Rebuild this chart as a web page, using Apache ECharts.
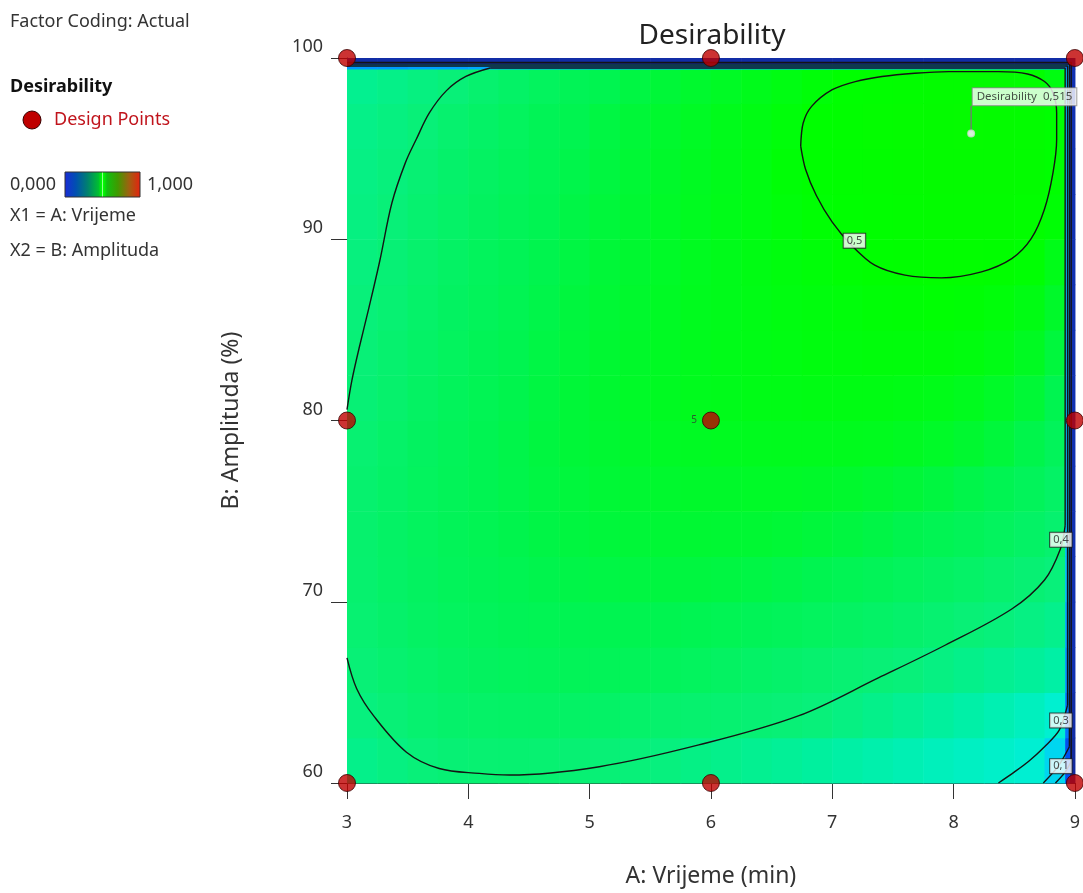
<!DOCTYPE html>
<html>
<head>
<meta charset="utf-8">
<script src="https://cdn.jsdelivr.net/npm/echarts@6/dist/echarts.min.js"></script>
<style>
html,body{margin:0;padding:0;background:#fff;}
#chart{width:1083px;height:893px;}
</style>
</head>
<body>
<div id="chart"></div>
<script>
// ---------- DATA ----------
const xTicks = [3, 4, 5, 6, 7, 8, 9];
const yTicks = [60, 70, 80, 90, 100];

// cell edges of the desirability surface (A: Vrijeme, B: Amplituda)
const xEdges = [3,3.25,3.5,3.75,4,4.25,4.5,4.75,5,5.25,5.5,5.75,6,6.25,6.5,6.75,7,7.25,7.5,7.75,8,8.25,8.5,8.75,8.92,8.96,9];
const yEdges = [60,62.5,65,67.5,70,72.5,75,77.5,80,82.5,85,87.5,90,92.5,95,97.5,99.4,99.7,100];

// estimated desirability per cell, rows from B=60 upward
const desirabilityRows = [
 [.378,.389,.399,.405,.409,.410,.409,.406,.402,.399,.392,.384,.376,.369,.361,.353,.345,.338,.330,.322,.315,.307,.298,.26,.10,.03],
 [.393,.403,.411,.417,.421,.424,.425,.424,.422,.419,.415,.412,.410,.406,.402,.397,.388,.377,.366,.354,.343,.331,.319,.30,.14,.04],
 [.402,.411,.419,.426,.431,.435,.438,.440,.440,.439,.436,.432,.428,.423,.418,.413,.408,.403,.397,.388,.378,.368,.357,.345,.17,.05],
 [.409,.418,.426,.432,.438,.442,.445,.448,.449,.450,.450,.448,.445,.441,.437,.432,.427,.422,.416,.410,.403,.396,.386,.375,.19,.05],
 [.413,.422,.430,.437,.443,.448,.452,.455,.457,.459,.460,.460,.459,.457,.454,.450,.445,.440,.434,.428,.421,.414,.406,.398,.22,.05],
 [.414,.424,.432,.440,.446,.452,.456,.460,.463,.465,.467,.468,.468,.468,.466,.463,.460,.456,.451,.446,.440,.433,.424,.412,.22,.05],
 [.413,.423,.432,.440,.447,.453,.458,.462,.466,.469,.471,.473,.474,.475,.475,.474,.472,.469,.465,.460,.454,.447,.437,.424,.22,.05],
 [.409,.420,.430,.439,.447,.454,.460,.465,.469,.473,.476,.478,.480,.481,.482,.482,.482,.481,.479,.475,.470,.463,.453,.437,.22,.05],
 [.404,.415,.426,.436,.445,.452,.459,.465,.470,.475,.479,.482,.484,.486,.487,.488,.488,.488,.487,.485,.481,.475,.466,.450,.22,.05],
 [.401,.412,.423,.433,.442,.450,.457,.463,.469,.474,.478,.482,.485,.487,.489,.491,.492,.493,.493,.493,.491,.487,.479,.462,.22,.05],
 [.397,.408,.419,.429,.438,.446,.454,.461,.467,.472,.477,.481,.484,.487,.490,.492,.494,.496,.497,.498,.497,.494,.488,.474,.22,.05],
 [.393,.404,.415,.425,.435,.443,.451,.458,.465,.470,.475,.480,.484,.488,.492,.495,.498,.501,.503,.505,.505,.503,.498,.485,.22,.05],
 [.389,.400,.411,.421,.431,.440,.448,.456,.463,.469,.475,.480,.485,.489,.494,.498,.501,.504,.507,.509,.510,.509,.505,.497,.22,.05],
 [.385,.395,.406,.417,.427,.436,.445,.453,.460,.467,.473,.479,.484,.489,.496,.501,.504,.507,.510,.513,.514,.513,.509,.500,.22,.05],
 [.380,.390,.400,.412,.423,.433,.442,.450,.458,.465,.471,.477,.483,.488,.494,.500,.504,.508,.511,.513,.515,.514,.510,.500,.22,.05],
 [.370,.380,.390,.400,.412,.423,.433,.442,.450,.458,.465,.471,.477,.483,.489,.495,.500,.504,.507,.509,.510,.509,.505,.490,.22,.05],
 [.18,.18,.19,.19,.20,.20,.20,.20,.20,.20,.20,.20,.20,.20,.20,.20,.20,.20,.20,.20,.20,.20,.20,.20,.15,.04],
 [.04,.04,.04,.04,.04,.04,.04,.04,.04,.04,.04,.04,.04,.04,.04,.04,.04,.04,.04,.04,.04,.04,.04,.04,.04,.02]
];

// contour lines [A, B]
const contour05 = [[6.74,95.14],[6.76,96.4],[6.83,97.33],[7.0,98.25],[7.19,98.7],[7.41,98.98],[7.68,99.16],[7.96,99.25],[8.37,99.25],[8.61,99.12],[8.75,98.7],[8.82,98.07],[8.85,96.97],[8.85,95.5],[8.82,93.68],[8.75,91.67],[8.64,90.03],[8.48,88.93],[8.23,88.2],[7.9,87.87],[7.6,88.02],[7.35,88.57],[7.16,89.66],[7.0,90.94],[6.87,92.4],[6.78,93.86],[6.74,95.14]];
const contour04Left = [[3.0,80.6],[3.04,82.2],[3.1,84.0],[3.18,86.2],[3.27,88.8],[3.37,92.0],[3.48,94.2],[3.57,95.5],[3.68,96.98],[3.82,98.2],[3.98,98.98],[4.18,99.45]];
const contour04Edge = [[4.18,99.45],[8.92,99.45],[8.92,74.2]];
const contour04Lower = [[8.92,74.2],[8.88,72.9],[8.75,71.2],[8.48,69.6],[7.93,67.6],[7.38,65.8],[6.72,63.7],[5.9,62.1],[5.08,60.9],[4.34,60.44],[4.09,60.53],[3.76,60.8],[3.49,61.7],[3.22,63.7],[3.08,65.2],[3.0,66.9]];
const contour03 = [[8.37,60],[8.5,60.6],[8.62,61.2],[8.75,62.0],[8.87,62.9],[8.94,64.3]];
const contour03Edge = [[8.94,64.3],[8.94,99.56],[3,99.56]];
const contour02 = [[8.74,60],[8.86,60.9],[8.955,62.0]];
const contour02Edge = [[8.955,62.0],[8.955,99.66],[3,99.66]];
const contour01 = [[8.84,60],[8.92,60.6],[8.97,61.2]];
const contour01Edge = [[8.97,61.2],[8.97,99.76],[3,99.76]];
const contourLabels = [[7.183,89.92,'0,5'],[8.885,73.42,'0,4'],[8.885,63.45,'0,3'],[8.885,60.93,'0,1']];

// design points
const designA = [3, 6, 9, 3, 6, 9, 3, 6, 9];
const designB = [60, 60, 60, 80, 80, 80, 100, 100, 100];
const designReps = [1, 1, 1, 1, 5, 1, 1, 1, 1];

// optimum flag
const optimumPoint = [8.145, 95.84];
const optimumValue = '0,515';
const flagTop = 97.37;
const flagLabelB = 97.86;

// ---------- BUILD ----------
const cellData = [];
desirabilityRows.forEach((row, j) => {
  row.forEach((v, i) => {
    cellData.push([xEdges[i], xEdges[i + 1], yEdges[j], yEdges[j + 1], v]);
  });
});
const designData = designA.map((a, i) => [a, designB[i], designReps[i]]);

const FONT = "'Noto Sans', 'Open Sans', sans-serif";
const lineStyleC = { color: '#141414', width: 1.4 };
function contourSeries(data, smooth) {
  return {
    type: 'line', data: data, smooth: smooth, showSymbol: false, symbol: 'none',
    lineStyle: lineStyleC, silent: true, z: 3, animation: false
  };
}
function legendText(text, x, y, font, fill) {
  return { type: 'text', x: x, y: y, style: { text: text, font: font, fill: fill, verticalAlign: 'middle', align: 'left' } };
}
const F18 = "18px 'Noto Sans', sans-serif";

const chart = echarts.init(document.getElementById('chart'), null, { renderer: 'canvas' });
chart.setOption({
  animation: false,
  backgroundColor: '#ffffff',
  title: {
    text: 'Desirability', left: 712, top: 22, padding: 0, textAlign: 'center',
    textStyle: { fontFamily: FONT, fontSize: 28, fontWeight: 'normal', color: '#222' }
  },
  grid: { left: 347, top: 58, width: 730, height: 730, containLabel: false },
  xAxis: {
    type: 'value', min: 3, max: 9, interval: 1,
    name: 'A: Vrijeme (min)', nameLocation: 'middle', nameGap: 82,
    nameTextStyle: { fontFamily: FONT, fontSize: 23, color: '#333' },
    axisLine: { show: true, onZero: false, lineStyle: { color: '#333', width: 1 } },
    axisTick: { show: true, length: 16, inside: false, lineStyle: { color: '#333' } },
    axisLabel: { fontFamily: FONT, fontSize: 18, color: '#333', margin: 31,
      formatter: v => xTicks.includes(v) ? String(v) : '' },
    splitLine: { show: false }
  },
  yAxis: {
    type: 'value', min: 60, max: 100, interval: 10,
    name: 'B: Amplituda (%)', nameLocation: 'middle', nameGap: 104, nameRotate: 90,
    nameTextStyle: { fontFamily: FONT, fontSize: 23, color: '#333' },
    axisLine: { show: true, onZero: false, lineStyle: { color: '#333', width: 1 } },
    axisTick: { show: true, length: 16, inside: false, lineStyle: { color: '#333' } },
    axisLabel: { fontFamily: FONT, fontSize: 18, color: '#333', margin: 24,
      verticalAlign: 'bottom', padding: [0, 0, 2, 0],
      formatter: v => yTicks.includes(v) ? String(v) : '' },
    splitLine: { show: false }
  },
  visualMap: {
    type: 'continuous', show: false, min: 0, max: 1, dimension: 4, seriesIndex: 0,
    inRange: { color: ['#142080','#1030b0','#0050f0','#0080ff','#00a8ff','#00d0f8','#00f0d0','#00f0a0','#08f078','#00f450','#00ff00','#10f000','#20e000','#30d000','#48c000','#60a800','#809000','#a07000','#c05000','#d83818','#e02010'] }
  },
  series: [
    {
      type: 'custom', name: 'Desirability', data: cellData,
      dimensions: ['x0', 'x1', 'y0', 'y1', 'd'],
      encode: { x: [0, 1], y: [2, 3] }, silent: true, z: 1, animation: false,
      renderItem: function (params, api) {
        const p0 = api.coord([api.value(0), api.value(3)]);
        const p1 = api.coord([api.value(1), api.value(2)]);
        return {
          type: 'rect',
          shape: { x: p0[0], y: p0[1], width: p1[0] - p0[0] + 0.6, height: p1[1] - p0[1] + 0.6 },
          style: { fill: api.visual('color') }
        };
      }
    },
    contourSeries(contour05, 0.3),
    contourSeries(contour04Left, 0.35),
    contourSeries(contour04Edge, false),
    contourSeries(contour04Lower, 0.35),
    contourSeries(contour03, 0.3),
    contourSeries(contour03Edge, false),
    contourSeries(contour02, 0.3),
    contourSeries(contour02Edge, false),
    contourSeries(contour01, 0.3),
    contourSeries(contour01Edge, false),
    {
      type: 'scatter', data: contourLabels, symbolSize: 1, silent: true, z: 5,
      itemStyle: { color: 'rgba(0,0,0,0)' },
      label: { show: true, position: 'inside', formatter: p => p.value[2],
        fontFamily: FONT, fontSize: 11, color: '#222', backgroundColor: '#fff',
        borderColor: '#222', borderWidth: 1, padding: [2, 3, 1, 3] }
    },
    {
      type: 'line', data: [optimumPoint, [optimumPoint[0], flagTop]], showSymbol: false,
      symbol: 'none', lineStyle: { color: '#777', width: 1.3 }, silent: true, z: 5
    },
    {
      type: 'scatter', data: [optimumPoint], symbol: 'emptyCircle', symbolSize: 6,
      itemStyle: { color: '#ddd', borderColor: '#888', borderWidth: 1.2 }, silent: true, z: 6
    },
    {
      type: 'scatter', data: [[optimumPoint[0], flagLabelB]], symbolSize: 1, silent: true, z: 7,
      itemStyle: { color: 'rgba(0,0,0,0)' },
      label: { show: true, position: 'right', distance: 1,
        formatter: 'Desirability  ' + optimumValue,
        fontFamily: FONT, fontSize: 11.5, color: '#222', backgroundColor: '#fff',
        borderColor: '#888', borderWidth: 1, padding: [3, 4, 2, 4] }
    },
    {
      type: 'scatter', name: 'Design Points', data: designData, symbol: 'circle', symbolSize: 17,
      clip: false, z: 8,
      itemStyle: { color: '#bf0000', borderColor: '#3a0000', borderWidth: 1 },
      label: { show: true, position: 'left', distance: 5,
        formatter: p => p.value[2] > 1 ? String(p.value[2]) : '',
        fontFamily: FONT, fontSize: 10, color: '#333' }
    }
  ],
  graphic: [
    legendText('Factor Coding: Actual', 10, 22, F18, '#333'),
    legendText('Desirability', 10, 87, "bold 18px 'Noto Sans', sans-serif", '#111'),
    { type: 'circle', shape: { cx: 32, cy: 120, r: 9 }, style: { fill: '#bf0000', stroke: '#3a0000', lineWidth: 1 } },
    legendText('Design Points', 54, 120, F18, '#c0141c'),
    legendText('0,000', 10, 185, F18, '#333'),
    { type: 'rect', shape: { x: 65, y: 172, width: 75, height: 25 },
      style: { stroke: '#333', lineWidth: 1,
        fill: new echarts.graphic.LinearGradient(0, 0, 1, 0, [
          { offset: 0, color: '#1a2ad8' }, { offset: 0.15, color: '#0050b0' },
          { offset: 0.3, color: '#008070' }, { offset: 0.45, color: '#00c030' },
          { offset: 0.49, color: '#00ff00' }, { offset: 0.5, color: '#90ff90' },
          { offset: 0.51, color: '#00ff00' }, { offset: 0.56, color: '#10c010' },
          { offset: 0.7, color: '#409a00' }, { offset: 0.85, color: '#a06010' },
          { offset: 1, color: '#e82010' }]) } },
    legendText('1,000', 147, 185, F18, '#333'),
    legendText('X1 = A: Vrijeme', 10, 216, F18, '#333'),
    legendText('X2 = B: Amplituda', 10, 251, F18, '#333')
  ]
});
</script>
</body>
</html>
